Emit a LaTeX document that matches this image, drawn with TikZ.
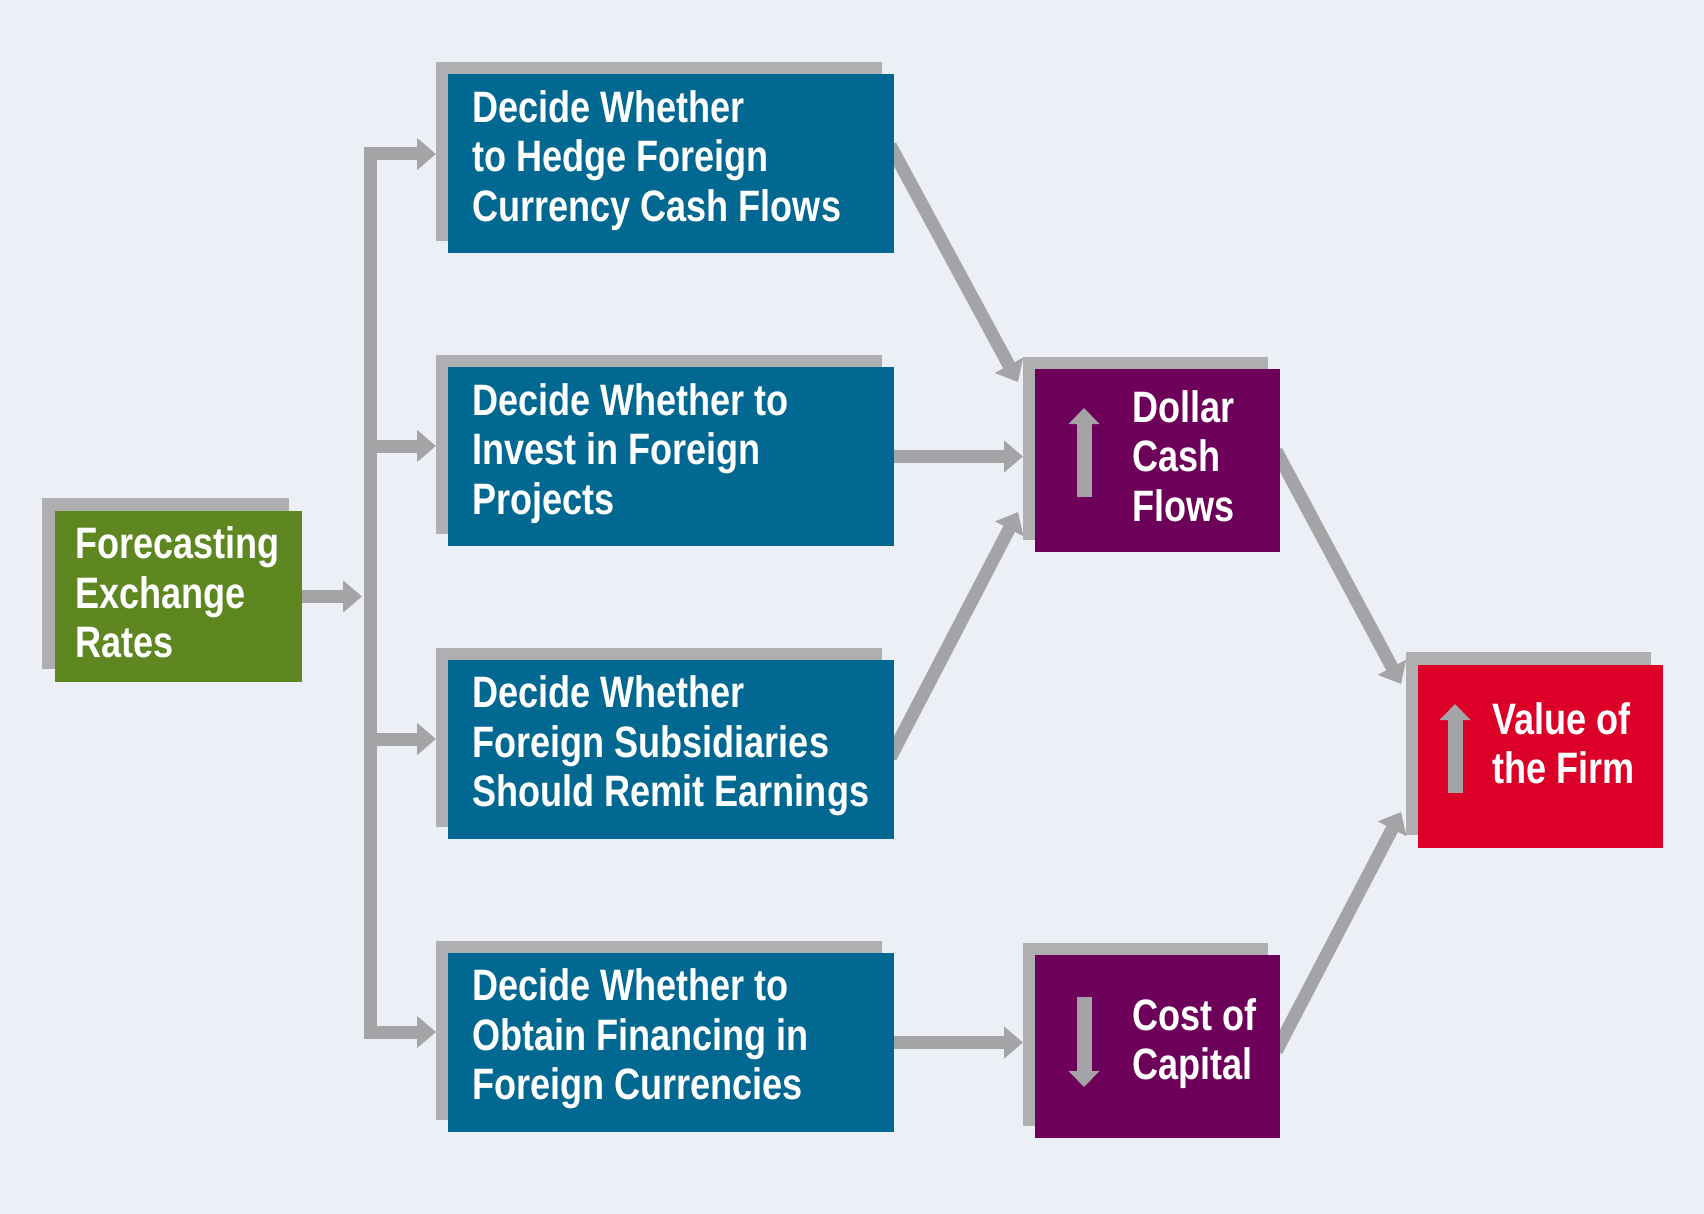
\documentclass[tikz,border=0pt]{standalone}
\usepackage{fontspec}
\setmainfont{Liberation Sans}[FakeStretch=0.82]
\usetikzlibrary{arrows.meta,calc}
\definecolor{bgc}{HTML}{ECEFF6}
\definecolor{bluebox}{HTML}{006891}
\definecolor{greenbox}{HTML}{5E8722}
\definecolor{purplebox}{HTML}{6D0058}
\definecolor{redbox}{HTML}{DC0028}
\definecolor{shade}{HTML}{AFAFB2}
\definecolor{conncol}{HTML}{A4A4A7}
\pgfdeclarelayer{back}
\pgfdeclarelayer{behind}
\pgfsetlayers{back,behind,main}
\begin{document}
\begin{tikzpicture}[x=1pt,y=-1pt,
  shadowbox/.style={fill=shade, draw=none, inner sep=0pt, outer sep=0pt, anchor=north west},
  boxbase/.style={draw=none, inner sep=0pt, outer sep=0pt, anchor=north west},
  wide/.style={minimum width=446pt, minimum height=179pt},
  narrow/.style={minimum width=245pt, minimum height=183pt},
  txt/.style={text=white, align=left, inner sep=0pt, anchor=west,
    font=\fontsize{44}{49.5}\selectfont\bfseries},
  conn/.style={draw=conncol, line width=13pt, line join=miter,
    -{Triangle[length=19pt,width=31pt]}},
  inarrow/.style={draw=conncol, line width=15pt,
    -{Triangle[length=16pt,width=30pt]}}
]
\begin{pgfonlayer}{back}
\fill[bgc] (0,0) rectangle (1704,1214);
\end{pgfonlayer}
\useasboundingbox (0,0) rectangle (1704,1214);

% Green box
\node[shadowbox, minimum width=247pt, minimum height=171pt] (gs) at (42,498) {};
\node[boxbase, fill=greenbox, minimum width=247pt, minimum height=171pt] (g) at (55,511) {};
\node[txt] (gt) at ($(g.west)+(20,-4)$) {Forecasting\\Exchange\\Rates};

% Blue boxes
\node[shadowbox, wide] (s1) at (436,62) {};
\node[boxbase, wide, fill=bluebox] (b1) at (448,74) {};
\node[txt] (b1t) at ($(b1.west)+(24,-3.3)$) {Decide Whether\\to Hedge Foreign\\Currency Cash Flows};

\node[shadowbox, wide] (s2) at (436,355) {};
\node[boxbase, wide, fill=bluebox] (b2) at (448,367) {};
\node[txt] (b2t) at ($(b2.west)+(24,-3.3)$) {Decide Whether to\\Invest in Foreign\\Projects};

\node[shadowbox, wide] (s3) at (436,648) {};
\node[boxbase, wide, fill=bluebox] (b3) at (448,660) {};
\node[txt] (b3t) at ($(b3.west)+(24,-3.3)$) {Decide Whether\\Foreign Subsidiaries\\Should Remit Earnings};

\node[shadowbox, wide] (s4) at (436,941) {};
\node[boxbase, wide, fill=bluebox] (b4) at (448,953) {};
\node[txt] (b4t) at ($(b4.west)+(24,-3.3)$) {Decide Whether to\\Obtain Financing in\\Foreign Currencies};

% Purple boxes
\node[shadowbox, narrow] (ps1) at (1023,357) {};
\node[boxbase, narrow, fill=purplebox] (p1) at (1035,369) {};
\node[txt] (p1t) at ($(p1.west)+(97,-4.5)$) {Dollar\\Cash\\Flows};

\node[shadowbox, narrow] (ps2) at (1023,943) {};
\node[boxbase, narrow, fill=purplebox] (p2) at (1035,955) {};
\node[txt] (p2t) at ($(p2.west)+(97,-3)$) {Cost of\\Capital};

% Red box
\node[shadowbox, narrow] (rs) at (1406,652) {};
\node[boxbase, narrow, fill=redbox] (r) at (1418,665) {};
\node[txt] (rt) at ($(r.west)+(74,-13)$) {Value of\\the Firm};

% Inner arrows
\draw[inarrow] (1084,497) -- (1084,408);
\draw[inarrow] (1084,997) -- (1084,1087);
\draw[inarrow] (1455,793) -- (1455,704);

% Junction coordinates
\coordinate (j1) at (370,154);
\coordinate (j2) at (370,446);
\coordinate (j3) at (370,739);
\coordinate (j4) at (370,1032);
\coordinate (gtip) at (362,596.5);
\coordinate (t1) at (1018,382);
\coordinate (t3) at (1018,512);
\coordinate (tr1) at (1401,684);
\coordinate (tr2) at (1401,812);

\begin{pgfonlayer}{behind}
\draw[conn] (g.east) -- (gtip);
\draw[conn, {Triangle[length=19pt,width=31pt]}-{Triangle[length=19pt,width=31pt]}]
  (s1.west |- j1) -- (j1) -- (j4) -- (s4.west |- j4);
\draw[conn] (j2) -- (s2.west |- j2);
\draw[conn] (j3) -- (s3.west |- j3);
\draw[conn] ($(b1.east)+(-3.8,-18)$) -- (t1);
\draw[conn] (b2.east) -- (b2.east -| ps1.west);
\draw[conn] ($(b3.east)+(-3.7,8)$) -- (t3);
\draw[conn] (b4.east) -- (b4.east -| ps2.west);
\draw[conn] ($(p1.east)+(-3.8,-9.5)$) -- (tr1);
\draw[conn] ($(p2.east)+(-3.7,4.5)$) -- (tr2);
\end{pgfonlayer}
\end{tikzpicture}
\end{document}
